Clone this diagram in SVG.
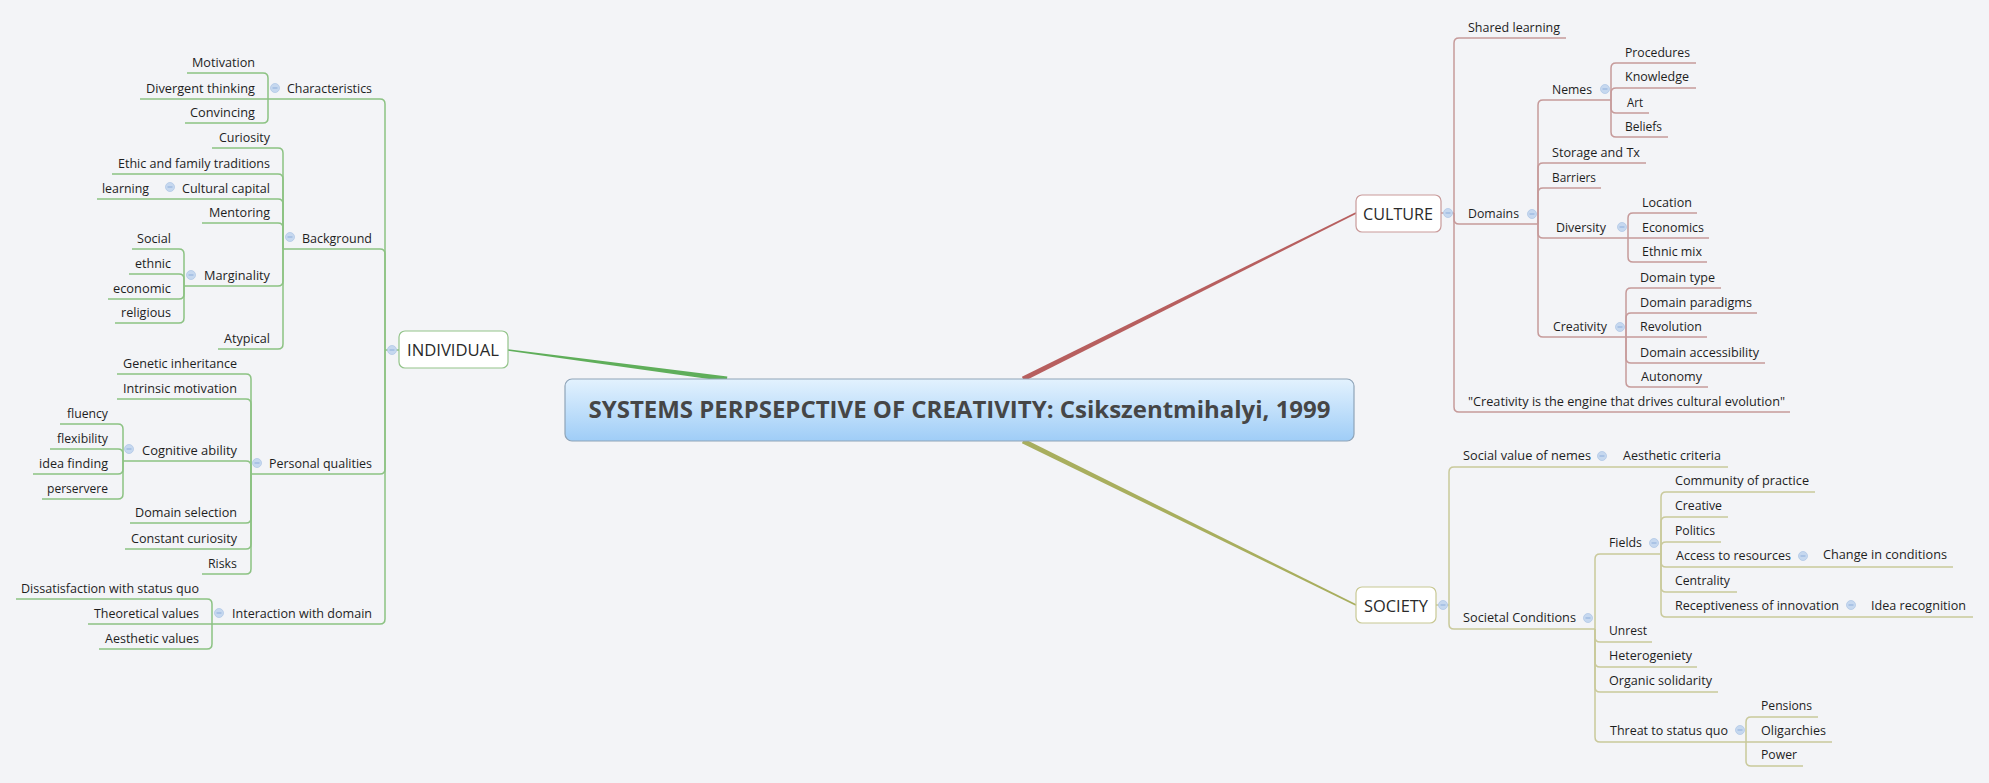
<svg xmlns="http://www.w3.org/2000/svg" xmlns:xlink="http://www.w3.org/1999/xlink" width="1989" height="783" viewBox="0 0 1989 783">
<style>
.lg{fill:none;stroke:#8cc283;stroke-width:1.5}
.lc{fill:none;stroke:#c69a9a;stroke-width:1.5}
.ls{fill:none;stroke:#c9c99b;stroke-width:1.5}
.t{font-family:"Open Sans","Liberation Sans",sans-serif;font-size:13.5px;fill:#1e1e1e}
.e{text-anchor:end}
.c{font-size:13px}
.big{font-size:17px;fill:#2a2a2a}
.ttl{font-family:"Open Sans","Liberation Sans",sans-serif;font-size:23px;font-weight:bold;fill:#464646;text-anchor:middle}
</style>
<defs>
<linearGradient id="tg" x1="0" y1="0" x2="0" y2="1">
<stop offset="0" stop-color="#e3f2fe"/>
<stop offset="1" stop-color="#9fcdf7"/>
</linearGradient>
<g id="mi"><circle r="4.5" fill="#c6d8ef" stroke="#b1c8e6" stroke-width="0.8"/><line x1="-2.5" y1="0" x2="2.5" y2="0" stroke="#8eaedb" stroke-width="1"/></g>
</defs>
<rect width="1989" height="783" fill="#f3f4f7"/>
<g id="connectors">
<polygon points="508.1,349.2 507.9,350.8 726.7,381.5 727.3,376.5" fill="#5fae5a"/>
<polygon points="1024.1,381.2 1021.9,376.8 1355.6,212.3 1356.4,213.7" fill="#b75f5f"/>
<polygon points="1021.9,443.2 1024.1,438.8 1356.4,604.3 1355.6,605.7" fill="#a8ae5e"/>
<g class="lg">
<path d="M385,350 H399"/>
<path d="M385,350 V104 Q385,99 380,99 H268"/>
<path d="M385,350 V254 Q385,249 380,249 H283"/>
<path d="M385,350 V469 Q385,474 380,474 H251"/>
<path d="M385,350 V619 Q385,624 380,624 H212"/>
<path d="M268,99 V78 Q268,73 263,73 H187"/>
<path d="M268,99 H140"/>
<path d="M268,99 V118 Q268,123 263,123 H185"/>
<path d="M283,249 V153 Q283,148 278,148 H212"/>
<path d="M283,249 V179 Q283,174 278,174 H112"/>
<path d="M283,249 V204 Q283,199 278,199 H97"/>
<path d="M283,249 V228 Q283,223 278,223 H202"/>
<path d="M283,249 V281 Q283,286 278,286 H184"/>
<path d="M283,249 V344 Q283,349 278,349 H218"/>
<path d="M184,286 V254 Q184,249 179,249 H132"/>
<path d="M184,286 V279 Q184,274 179,274 H129"/>
<path d="M184,286 V294 Q184,299 179,299 H108"/>
<path d="M184,286 V318 Q184,323 179,323 H115"/>
<path d="M251,474 V379 Q251,374 246,374 H117"/>
<path d="M251,474 V404 Q251,399 246,399 H117"/>
<path d="M251,474 V466 Q251,461 246,461 H123"/>
<path d="M251,474 V518 Q251,523 246,523 H130"/>
<path d="M251,474 V544 Q251,549 246,549 H125"/>
<path d="M251,474 V569 Q251,574 246,574 H202"/>
<path d="M123,461 V429 Q123,424 118,424 H60"/>
<path d="M123,461 V454 Q123,449 118,449 H50"/>
<path d="M123,461 V469 Q123,474 118,474 H33"/>
<path d="M123,461 V494 Q123,499 118,499 H42"/>
<path d="M212,624 V604 Q212,599 207,599 H16"/>
<path d="M212,624 H88"/>
<path d="M212,624 V644 Q212,649 207,649 H99"/>
</g>
<g class="lc">
<path d="M1441,213 H1454"/>
<path d="M1454,213 V43 Q1454,38 1459,38 H1566"/>
<path d="M1454,213 V219 Q1454,224 1459,224 H1538"/>
<path d="M1454,213 V407 Q1454,412 1459,412 H1790"/>
<path d="M1538,224 V105 Q1538,100 1543,100 H1611"/>
<path d="M1538,224 V168 Q1538,163 1543,163 H1646"/>
<path d="M1538,224 V193 Q1538,188 1543,188 H1601"/>
<path d="M1538,224 V233 Q1538,238 1543,238 H1628"/>
<path d="M1538,224 V332 Q1538,337 1543,337 H1626"/>
<path d="M1611,100 V68 Q1611,63 1616,63 H1696"/>
<path d="M1611,100 V93 Q1611,88 1616,88 H1696"/>
<path d="M1611,100 V108 Q1611,113 1616,113 H1649"/>
<path d="M1611,100 V132 Q1611,137 1616,137 H1668"/>
<path d="M1628,238 V218 Q1628,213 1633,213 H1697"/>
<path d="M1628,238 H1709"/>
<path d="M1628,238 V257 Q1628,262 1633,262 H1707"/>
<path d="M1626,337 V293 Q1626,288 1631,288 H1721"/>
<path d="M1626,337 V318 Q1626,313 1631,313 H1757"/>
<path d="M1626,337 H1707"/>
<path d="M1626,337 V358 Q1626,363 1631,363 H1765"/>
<path d="M1626,337 V382 Q1626,387 1631,387 H1708"/>
</g>
<g class="ls">
<path d="M1436,605 H1449"/>
<path d="M1449,605 V472 Q1449,467 1454,467 H1728"/>
<path d="M1449,605 V624 Q1449,629 1454,629 H1595"/>
<path d="M1595,629 V559 Q1595,554 1600,554 H1661"/>
<path d="M1595,629 V637 Q1595,642 1600,642 H1652"/>
<path d="M1595,629 V662 Q1595,667 1600,667 H1697"/>
<path d="M1595,629 V687 Q1595,692 1600,692 H1718"/>
<path d="M1595,629 V737 Q1595,742 1600,742 H1746"/>
<path d="M1661,554 V497 Q1661,492 1666,492 H1815"/>
<path d="M1661,554 V522 Q1661,517 1666,517 H1728"/>
<path d="M1661,554 V547 Q1661,542 1666,542 H1721"/>
<path d="M1661,554 V562 Q1661,567 1666,567 H1953"/>
<path d="M1661,554 V587 Q1661,592 1666,592 H1737"/>
<path d="M1661,554 V612 Q1661,617 1666,617 H1973"/>
<path d="M1746,742 V722 Q1746,717 1751,717 H1818"/>
<path d="M1746,742 H1832"/>
<path d="M1746,742 V761 Q1746,766 1751,766 H1803"/>
</g>
</g>
<g id="node-title">
<rect x="565" y="379" width="789" height="62" rx="7" fill="url(#tg)" stroke="#8fa4b8" stroke-width="1.2"/>
<text class="ttl" x="959.5" y="418" textLength="742" lengthAdjust="spacingAndGlyphs">SYSTEMS PERPSEPCTIVE OF CREATIVITY: Csikszentmihalyi, 1999</text>
</g>
<g id="node-individual">
<rect x="399" y="331" width="109" height="37" rx="6" fill="#ffffff" stroke="#93c48a" stroke-width="1.2"/>
<text class="t big" x="407" y="356" textLength="92" lengthAdjust="spacingAndGlyphs">INDIVIDUAL</text>
<use xlink:href="#mi" x="392" y="350"/>
</g>
<g id="node-characteristics">
<text class="t e" x="372" y="93" textLength="85" lengthAdjust="spacingAndGlyphs">Characteristics</text>
<use xlink:href="#mi" x="275" y="88"/>
</g>
<g id="node-motivation"><text class="t e" x="255" y="67" textLength="63" lengthAdjust="spacingAndGlyphs">Motivation</text></g>
<g id="node-divergent"><text class="t e" x="255" y="93" textLength="109" lengthAdjust="spacingAndGlyphs">Divergent thinking</text></g>
<g id="node-convincing"><text class="t e" x="255" y="117" textLength="65" lengthAdjust="spacingAndGlyphs">Convincing</text></g>
<g id="node-background">
<text class="t e" x="372" y="243" textLength="70" lengthAdjust="spacingAndGlyphs">Background</text>
<use xlink:href="#mi" x="290" y="237"/>
</g>
<g id="node-curiosity"><text class="t e" x="270" y="142" textLength="51" lengthAdjust="spacingAndGlyphs">Curiosity</text></g>
<g id="node-ethic"><text class="t e" x="270" y="168" textLength="152" lengthAdjust="spacingAndGlyphs">Ethic and family traditions</text></g>
<g id="node-cultural-capital">
<text class="t e" x="270" y="193" textLength="88" lengthAdjust="spacingAndGlyphs">Cultural capital</text>
<use xlink:href="#mi" x="170" y="187"/>
</g>
<g id="node-learning"><text class="t e" x="149" y="193" textLength="47" lengthAdjust="spacingAndGlyphs">learning</text></g>
<g id="node-mentoring"><text class="t e" x="270" y="217" textLength="61" lengthAdjust="spacingAndGlyphs">Mentoring</text></g>
<g id="node-marginality">
<text class="t e" x="270" y="280" textLength="66" lengthAdjust="spacingAndGlyphs">Marginality</text>
<use xlink:href="#mi" x="191" y="275"/>
</g>
<g id="node-social"><text class="t e" x="171" y="243" textLength="34" lengthAdjust="spacingAndGlyphs">Social</text></g>
<g id="node-ethnic"><text class="t e" x="171" y="268" textLength="36" lengthAdjust="spacingAndGlyphs">ethnic</text></g>
<g id="node-economic"><text class="t e" x="171" y="293" textLength="58" lengthAdjust="spacingAndGlyphs">economic</text></g>
<g id="node-religious"><text class="t e" x="171" y="317" textLength="50" lengthAdjust="spacingAndGlyphs">religious</text></g>
<g id="node-atypical"><text class="t e" x="270" y="343" textLength="46" lengthAdjust="spacingAndGlyphs">Atypical</text></g>
<g id="node-personal">
<text class="t e" x="372" y="468" textLength="103" lengthAdjust="spacingAndGlyphs">Personal qualities</text>
<use xlink:href="#mi" x="257" y="463"/>
</g>
<g id="node-genetic"><text class="t e" x="237" y="368" textLength="114" lengthAdjust="spacingAndGlyphs">Genetic inheritance</text></g>
<g id="node-intrinsic"><text class="t e" x="237" y="393" textLength="114" lengthAdjust="spacingAndGlyphs">Intrinsic motivation</text></g>
<g id="node-cognitive">
<text class="t e" x="237" y="455" textLength="95" lengthAdjust="spacingAndGlyphs">Cognitive ability</text>
<use xlink:href="#mi" x="129" y="449"/>
</g>
<g id="node-fluency"><text class="t e" x="108" y="418" textLength="41" lengthAdjust="spacingAndGlyphs">fluency</text></g>
<g id="node-flexibility"><text class="t e" x="108" y="443" textLength="51" lengthAdjust="spacingAndGlyphs">flexibility</text></g>
<g id="node-idea-finding"><text class="t e" x="108" y="468" textLength="69" lengthAdjust="spacingAndGlyphs">idea finding</text></g>
<g id="node-perservere"><text class="t e" x="108" y="493" textLength="61" lengthAdjust="spacingAndGlyphs">perservere</text></g>
<g id="node-domain-selection"><text class="t e" x="237" y="517" textLength="102" lengthAdjust="spacingAndGlyphs">Domain selection</text></g>
<g id="node-constant-curiosity"><text class="t e" x="237" y="543" textLength="106" lengthAdjust="spacingAndGlyphs">Constant curiosity</text></g>
<g id="node-risks"><text class="t e" x="237" y="568" textLength="29" lengthAdjust="spacingAndGlyphs">Risks</text></g>
<g id="node-interaction">
<text class="t e" x="372" y="618" textLength="140" lengthAdjust="spacingAndGlyphs">Interaction with domain</text>
<use xlink:href="#mi" x="219" y="613"/>
</g>
<g id="node-dissatisfaction"><text class="t e" x="199" y="593" textLength="178" lengthAdjust="spacingAndGlyphs">Dissatisfaction with status quo</text></g>
<g id="node-theoretical"><text class="t e" x="199" y="618" textLength="105" lengthAdjust="spacingAndGlyphs">Theoretical values</text></g>
<g id="node-aesthetic-values"><text class="t e" x="199" y="643" textLength="94" lengthAdjust="spacingAndGlyphs">Aesthetic values</text></g>
<g id="node-culture">
<rect x="1356" y="195" width="85" height="37" rx="6" fill="#ffffff" stroke="#c99a9a" stroke-width="1.2"/>
<text class="t big" x="1363" y="220" textLength="70" lengthAdjust="spacingAndGlyphs">CULTURE</text>
<use xlink:href="#mi" x="1448" y="213"/>
</g>
<g id="node-shared-learning"><text class="t c" x="1468" y="32" textLength="92" lengthAdjust="spacingAndGlyphs">Shared learning</text></g>
<g id="node-domains">
<text class="t c" x="1468" y="218" textLength="51" lengthAdjust="spacingAndGlyphs">Domains</text>
<use xlink:href="#mi" x="1532" y="214"/>
</g>
<g id="node-nemes">
<text class="t c" x="1552" y="94" textLength="40" lengthAdjust="spacingAndGlyphs">Nemes</text>
<use xlink:href="#mi" x="1605" y="89"/>
</g>
<g id="node-procedures"><text class="t c" x="1625" y="57" textLength="65" lengthAdjust="spacingAndGlyphs">Procedures</text></g>
<g id="node-knowledge"><text class="t c" x="1625" y="81" textLength="64" lengthAdjust="spacingAndGlyphs">Knowledge</text></g>
<g id="node-art"><text class="t c" x="1627" y="107" textLength="16" lengthAdjust="spacingAndGlyphs">Art</text></g>
<g id="node-beliefs"><text class="t c" x="1625" y="131" textLength="37" lengthAdjust="spacingAndGlyphs">Beliefs</text></g>
<g id="node-storage"><text class="t c" x="1552" y="157" textLength="88" lengthAdjust="spacingAndGlyphs">Storage and Tx</text></g>
<g id="node-barriers"><text class="t c" x="1552" y="182" textLength="44" lengthAdjust="spacingAndGlyphs">Barriers</text></g>
<g id="node-diversity">
<text class="t c" x="1556" y="232" textLength="50" lengthAdjust="spacingAndGlyphs">Diversity</text>
<use xlink:href="#mi" x="1622" y="227"/>
</g>
<g id="node-location"><text class="t c" x="1642" y="207" textLength="50" lengthAdjust="spacingAndGlyphs">Location</text></g>
<g id="node-economics"><text class="t c" x="1642" y="232" textLength="62" lengthAdjust="spacingAndGlyphs">Economics</text></g>
<g id="node-ethnic-mix"><text class="t c" x="1642" y="256" textLength="60" lengthAdjust="spacingAndGlyphs">Ethnic mix</text></g>
<g id="node-creativity">
<text class="t c" x="1553" y="331" textLength="54" lengthAdjust="spacingAndGlyphs">Creativity</text>
<use xlink:href="#mi" x="1620" y="327"/>
</g>
<g id="node-domain-type"><text class="t c" x="1640" y="282" textLength="75" lengthAdjust="spacingAndGlyphs">Domain type</text></g>
<g id="node-domain-paradigms"><text class="t c" x="1640" y="307" textLength="112" lengthAdjust="spacingAndGlyphs">Domain paradigms</text></g>
<g id="node-revolution"><text class="t c" x="1640" y="331" textLength="62" lengthAdjust="spacingAndGlyphs">Revolution</text></g>
<g id="node-domain-accessibility"><text class="t c" x="1640" y="357" textLength="119" lengthAdjust="spacingAndGlyphs">Domain accessibility</text></g>
<g id="node-autonomy"><text class="t c" x="1641" y="381" textLength="61" lengthAdjust="spacingAndGlyphs">Autonomy</text></g>
<g id="node-quote"><text class="t c" x="1468" y="406" textLength="317" lengthAdjust="spacingAndGlyphs">"Creativity is the engine that drives cultural evolution"</text></g>
<g id="node-society">
<rect x="1356" y="587" width="80" height="36" rx="6" fill="#ffffff" stroke="#c8c894" stroke-width="1.2"/>
<text class="t big" x="1364" y="612" textLength="64" lengthAdjust="spacingAndGlyphs">SOCIETY</text>
<use xlink:href="#mi" x="1443" y="605"/>
</g>
<g id="node-social-value">
<text class="t c" x="1463" y="460" textLength="128" lengthAdjust="spacingAndGlyphs">Social value of nemes</text>
<use xlink:href="#mi" x="1602" y="456"/>
</g>
<g id="node-aesthetic-criteria"><text class="t c" x="1623" y="460" textLength="98" lengthAdjust="spacingAndGlyphs">Aesthetic criteria</text></g>
<g id="node-societal">
<text class="t c" x="1463" y="622" textLength="113" lengthAdjust="spacingAndGlyphs">Societal Conditions</text>
<use xlink:href="#mi" x="1588" y="618"/>
</g>
<g id="node-fields">
<text class="t c" x="1609" y="547" textLength="33" lengthAdjust="spacingAndGlyphs">Fields</text>
<use xlink:href="#mi" x="1654" y="543"/>
</g>
<g id="node-community"><text class="t c" x="1675" y="485" textLength="134" lengthAdjust="spacingAndGlyphs">Community of practice</text></g>
<g id="node-creative"><text class="t c" x="1675" y="510" textLength="47" lengthAdjust="spacingAndGlyphs">Creative</text></g>
<g id="node-politics"><text class="t c" x="1675" y="535" textLength="40" lengthAdjust="spacingAndGlyphs">Politics</text></g>
<g id="node-access">
<text class="t c" x="1676" y="560" textLength="115" lengthAdjust="spacingAndGlyphs">Access to resources</text>
<use xlink:href="#mi" x="1803" y="556"/>
</g>
<g id="node-change"><text class="t c" x="1823" y="559" textLength="124" lengthAdjust="spacingAndGlyphs">Change in conditions</text></g>
<g id="node-centrality"><text class="t c" x="1675" y="585" textLength="55" lengthAdjust="spacingAndGlyphs">Centrality</text></g>
<g id="node-receptiveness">
<text class="t c" x="1675" y="610" textLength="164" lengthAdjust="spacingAndGlyphs">Receptiveness of innovation</text>
<use xlink:href="#mi" x="1851" y="605"/>
</g>
<g id="node-idea-recognition"><text class="t c" x="1871" y="610" textLength="95" lengthAdjust="spacingAndGlyphs">Idea recognition</text></g>
<g id="node-unrest"><text class="t c" x="1609" y="635" textLength="38" lengthAdjust="spacingAndGlyphs">Unrest</text></g>
<g id="node-heterogeniety"><text class="t c" x="1609" y="660" textLength="83" lengthAdjust="spacingAndGlyphs">Heterogeniety</text></g>
<g id="node-organic"><text class="t c" x="1609" y="685" textLength="103" lengthAdjust="spacingAndGlyphs">Organic solidarity</text></g>
<g id="node-threat">
<text class="t c" x="1610" y="735" textLength="118" lengthAdjust="spacingAndGlyphs">Threat to status quo</text>
<use xlink:href="#mi" x="1740" y="730"/>
</g>
<g id="node-pensions"><text class="t c" x="1761" y="710" textLength="51" lengthAdjust="spacingAndGlyphs">Pensions</text></g>
<g id="node-oligarchies"><text class="t c" x="1761" y="735" textLength="65" lengthAdjust="spacingAndGlyphs">Oligarchies</text></g>
<g id="node-power"><text class="t c" x="1761" y="759" textLength="36" lengthAdjust="spacingAndGlyphs">Power</text></g>
</svg>
